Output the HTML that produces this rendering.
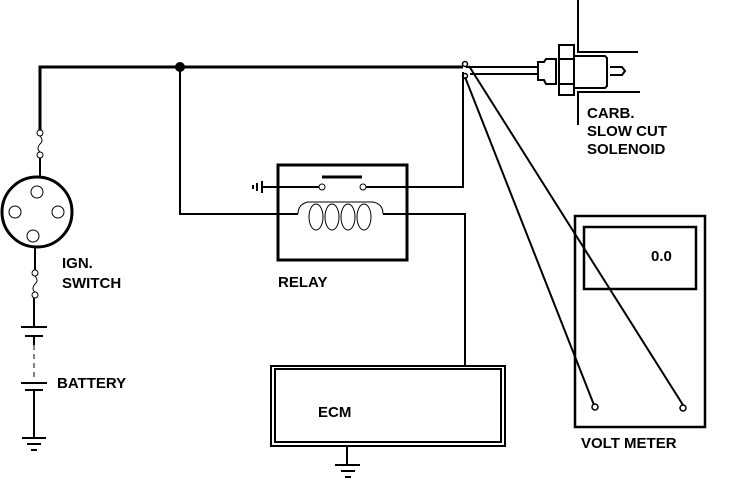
<!DOCTYPE html><html><head><style>body{margin:0;background:#fff}svg{display:block}text{font-family:"Liberation Sans",sans-serif;font-weight:bold;font-size:15px;fill:#000}</style></head><body>
<svg width="736" height="482" viewBox="0 0 736 482" fill="none" stroke="#000" stroke-width="2">
<path d="M40 130V67H463" stroke-width="3"/>
<circle cx="180" cy="67" r="4" fill="#000"/>
<path d="M180 67V214H298"/>
<circle cx="40" cy="133" r="3" stroke-width="1"/><path d="M40 136q4 5 0 8q-4 5 0 8" stroke-width="1"/><circle cx="40" cy="155" r="3" stroke-width="1"/>
<path d="M40 158V177" stroke-width="2"/>
<circle cx="37" cy="212" r="35" stroke-width="3"/>
<circle cx="37" cy="192" r="6" stroke-width="1"/><circle cx="15" cy="212" r="6" stroke-width="1"/><circle cx="58" cy="212" r="6" stroke-width="1"/><circle cx="33" cy="236" r="6" stroke-width="1"/>
<path d="M35 247V270"/>
<circle cx="35" cy="273" r="3" stroke-width="1"/><path d="M35 276q4 5 0 8q-4 5 0 8" stroke-width="1"/><circle cx="35" cy="295" r="3" stroke-width="1"/>
<path d="M34 298V327M21 327H47M25 336H43M34 336V345" />
<path d="M34 345V378" stroke-dasharray="5 4" stroke-width="1"/>
<path d="M21 383H47M25 390H43M34 390V438M22 438H46M27 444H41M31 450H37"/>
<rect x="278" y="165" width="129" height="95" stroke-width="3"/>
<path d="M322 177H362" stroke-width="3"/>
<circle cx="322" cy="187" r="3" stroke-width="1"/><circle cx="363" cy="187" r="3" stroke-width="1"/>
<path d="M262 187H319M366 187H463V72"/>
<path d="M262 181V193M257 183V191M253 185V189"/>
<path d="M298 214q0-10 10-12h65q10 2 10 12" stroke-width="1"/>
<path d="M383 214H465V366"/>
<g stroke-width="1"><ellipse cx="316" cy="217" rx="7" ry="13"/><ellipse cx="332" cy="217" rx="7" ry="13"/><ellipse cx="348" cy="217" rx="7" ry="13"/><ellipse cx="364" cy="217" rx="7" ry="13"/></g>
<rect x="271" y="366" width="234" height="80"/><rect x="275" y="369" width="226" height="73"/>
<path d="M347 446V464M335 465H360M341 471H355M345 477H351"/>
<path d="M466 67H537M470 74H537"/>
<path d="M538 62H544L546 59H556V84H546L544 80H538Z" stroke-width="2"/>
<path d="M559 45H574V95H559ZM559 59H574M559 84H574" stroke-width="2"/>
<path d="M574 56H605L607 58V86L605 88H574" stroke-width="2"/>
<path d="M610 67H622L625 71L622 75H610" stroke-width="2"/>
<path d="M578 0V52H638M578 125V92H640"/>
<circle cx="465" cy="64" r="2.5" stroke-width="1.5"/><circle cx="465" cy="76" r="2.5" stroke-width="1.5"/>
<path d="M465 77L594 405M469 66L683 405"/>
<rect x="575" y="216" width="130" height="211" stroke-width="2.5"/>
<rect x="584" y="227" width="112" height="62" stroke-width="2.5"/>
<circle cx="595" cy="407" r="3" stroke-width="1.5"/><circle cx="683" cy="408" r="3" stroke-width="1.5"/>
<g stroke="none">
<text x="587" y="118">CARB.</text><text x="587" y="136">SLOW CUT</text><text x="587" y="154">SOLENOID</text>
<text x="62" y="268">IGN.</text><text x="62" y="288">SWITCH</text>
<text x="57" y="388">BATTERY</text>
<text x="278" y="287">RELAY</text>
<text x="318" y="417">ECM</text>
<text x="651" y="261">0.0</text>
<text x="581" y="448">VOLT METER</text>
</g>
</svg></body></html>
